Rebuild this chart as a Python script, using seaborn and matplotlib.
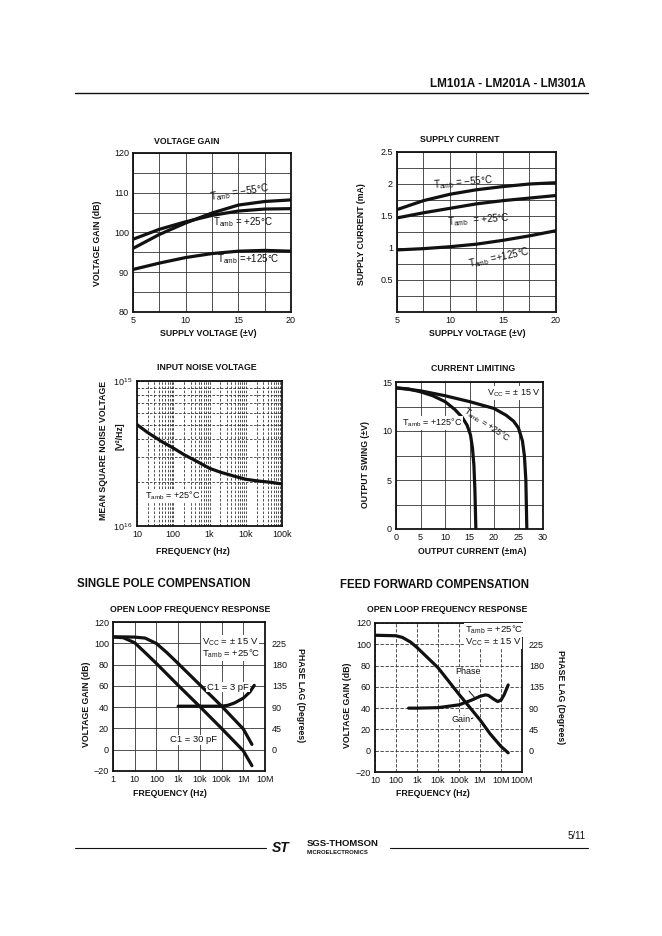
import matplotlib
matplotlib.use("Agg")
import matplotlib.pyplot as plt
import matplotlib.ticker as mticker
from matplotlib.lines import Line2D
import numpy as np
import pandas as pd
import seaborn as sns

# ---------------- data ----------------
# voltage gain vs supply voltage
vs = [5, 7.5, 10, 12.5, 15, 17.5, 20]
gain_m55 = [96.0, 99.5, 102.4, 104.9, 106.9, 107.8, 108.2]
gain_p25 = [98.3, 100.8, 102.7, 104.3, 105.4, 105.9, 106.0]
gain_p125 = [90.7, 92.3, 93.7, 94.7, 95.3, 95.5, 95.3]

# supply current vs supply voltage
icc_m55 = [1.60, 1.74, 1.84, 1.91, 1.96, 2.00, 2.02]
icc_p25 = [1.47, 1.55, 1.62, 1.69, 1.74, 1.78, 1.82]
icc_p125 = [0.97, 0.99, 1.02, 1.06, 1.12, 1.19, 1.27]

# input noise voltage
f_noise = [10, 20, 50, 100, 200, 500, 1e3, 2e3, 5e3, 1e4, 2e4, 5e4, 1e5]
noise = [5.0e-16, 4.4e-16, 3.8e-16, 3.45e-16, 3.1e-16, 2.75e-16, 2.5e-16,
         2.35e-16, 2.2e-16, 2.1e-16, 2.05e-16, 2.0e-16, 1.95e-16]

# current limiting
iout_125 = [0, 2.5, 5, 7.5, 10, 12, 13.5, 14.5, 15.2, 15.6, 15.9, 16.1, 16.3]
vout_125 = [14.4, 14.3, 14.0, 13.6, 13.0, 12.2, 11.4, 10.6, 9.6, 8.3, 6.5, 4.0, 0]
iout_25 = [0, 5, 10, 15, 20, 22.5, 24, 25, 25.8, 26.2, 26.5, 26.7]
vout_25 = [14.4, 14.1, 13.6, 13.0, 12.3, 11.6, 11.0, 10.3, 9.0, 7.5, 5.0, 0]

# single pole compensation
f_3pf = [1, 3, 10, 30, 100, 300, 1e3, 1e4, 1e5, 1e6, 2.5e6]
gain_3pf = [106, 106, 105.8, 104.9, 99.8, 91.3, 81, 61, 41, 19.5, 5]
f_30pf = [1, 3, 10, 30, 100, 1e3, 1e4, 1e5, 1e6, 2.5e6]
gain_30pf = [106, 105.2, 100.5, 91.3, 81, 60.5, 40.5, 20, -1, -15]
f_ph5 = [1e3, 1e4, 1e5, 2e5, 4e5, 1e6, 2e6, 3.2e6]
phase5 = [92, 92, 92, 94, 99, 109, 122, 136]

# feed forward compensation
f_g6 = [10, 100, 200, 500, 1e3, 1e4, 1e5, 1e6, 3e6, 1e7, 2.2e7]
gain6 = [108.5, 108, 106.5, 102, 97, 78, 53, 29, 16, 4, -2]
f_ph6 = [400, 1e3, 1e4, 1e5, 4e5, 1e6, 1.8e6, 2.5e6, 4.5e6, 7e6, 1e7, 1.4e7, 2.2e7]
phase6 = [90, 90, 91, 97, 107, 115, 118, 117, 109, 104, 107, 118, 139]

freq_labels5 = ["1", "10", "100", "1k", "10k", "100k", "1M", "10M"]
freq_labels6 = ["10", "100", "1k", "10k", "100k", "1M", "10M", "100M"]

# ---------------- style ----------------
sns.set_style("white")
plt.rcParams["font.family"] = ["Liberation Sans", "DejaVu Sans"]
plt.rcParams["mathtext.fontset"] = "custom"
plt.rcParams["mathtext.rm"] = "Liberation Sans"
plt.rcParams["mathtext.it"] = "Liberation Sans"

W, H = 662, 936
fig = plt.figure(figsize=(W / 100, H / 100), dpi=100)

INK = "#111111"
LW = 2.3
TICK = 6.5
LAB = 6.3


def box(x0, y0, x1, y1):
    return [x0 / W, 1 - y1 / H, (x1 - x0) / W, (y1 - y0) / H]


def txt(x, y, s, **kw):
    kw.setdefault("va", "center")
    kw.setdefault("color", INK)
    fig.text(x / W, 1 - y / H, s, **kw)


def hline(x0, x1, y, lw=1.0):
    fig.add_artist(Line2D([x0 / W, x1 / W], [1 - y / H, 1 - y / H],
                          color=INK, lw=lw))


def frame(ax, grid_ls="-"):
    for s in ax.spines.values():
        s.set_color(INK)
        s.set_linewidth(1.3)
    ax.tick_params(which="both", length=0, labelsize=TICK, pad=3, colors=INK)
    ax.grid(which="both", color="#333333", lw=0.6, ls=grid_ls)
    ax.set_xlabel("")
    ax.set_ylabel("")


def curve(ax, x, y):
    df = pd.DataFrame({"x": x, "y": y})
    sns.lineplot(data=df, x="x", y="y", ax=ax, color=INK, lw=LW,
                 sort=False, estimator=None, legend=False)


T = r"T$_{\rm amb}$"
wb = dict(facecolor="white", edgecolor="none", pad=0.6)

# ---------------- 1. voltage gain ----------------
ax1 = fig.add_axes(box(133, 153, 291, 312))
curve(ax1, vs, gain_m55)
curve(ax1, vs, gain_p25)
curve(ax1, vs, gain_p125)
ax1.set_xlim(5, 20)
ax1.set_ylim(80, 120)
ax1.set_xticks([5, 10, 15, 20])
ax1.set_xticks([7.5, 12.5, 17.5], minor=True)
ax1.set_yticks([80, 90, 100, 110, 120])
ax1.set_yticks([85, 95, 105, 115], minor=True)
frame(ax1)
txt(187, 142, "VOLTAGE GAIN", ha="center", fontsize=LAB, fontweight="bold")
txt(208, 333, "SUPPLY VOLTAGE (±V)", ha="center", fontsize=LAB, fontweight="bold")
txt(98, 243, "VOLTAGE GAIN (dB)", ha="center", rotation=90, fontsize=LAB, fontweight="bold")
txt(209, 193, T + " = −55°C", fontsize=7, rotation=9)
txt(213, 222, T + " = +25°C", fontsize=7)
txt(217, 259, T + " =+125°C", fontsize=7)

# ---------------- 2. supply current ----------------
ax2 = fig.add_axes(box(397, 152, 556, 312))
curve(ax2, vs, icc_m55)
curve(ax2, vs, icc_p25)
curve(ax2, vs, icc_p125)
ax2.set_xlim(5, 20)
ax2.set_ylim(0, 2.5)
ax2.set_xticks([5, 10, 15, 20])
ax2.set_xticks([7.5, 12.5, 17.5], minor=True)
ax2.set_yticks([0.5, 1, 1.5, 2, 2.5])
ax2.set_yticklabels(["0.5", "1", "1.5", "2", "2.5"])
ax2.set_yticks([0.25, 0.75, 1.25, 1.75, 2.25], minor=True)
frame(ax2)
txt(460, 139, "SUPPLY CURRENT", ha="center", fontsize=LAB, fontweight="bold")
txt(477, 333, "SUPPLY VOLTAGE (±V)", ha="center", fontsize=LAB, fontweight="bold")
txt(362, 234, "SUPPLY CURRENT (mA)", ha="center", rotation=90, fontsize=LAB, fontweight="bold")
txt(433, 183, T + " = −55°C", fontsize=7, rotation=5)
txt(447, 220, T + "  = +25°C", fontsize=7, rotation=4)
txt(467, 258, T + " =+125°C", fontsize=7, rotation=12)

# ---------------- 3. input noise voltage ----------------
ax3 = fig.add_axes(box(137, 381, 282, 526))
ax3.set_xscale("log")
ax3.set_yscale("log")
curve(ax3, f_noise, noise)
ax3.set_xlim(10, 1e5)
ax3.set_ylim(1e-16, 1e-15)
ax3.set_xticks([10, 100, 1e3, 1e4, 1e5])
ax3.set_xticklabels(["10", "100", "1k", "10k", "100k"])
ax3.xaxis.set_minor_locator(mticker.LogLocator(base=10, subs=np.arange(2, 10)))
ax3.xaxis.set_minor_formatter(mticker.NullFormatter())
ax3.set_yticks([1e-16, 1e-15])
ax3.set_yticklabels([r"10$^{\,16}$", r"10$^{\,15}$"])
ax3.yaxis.set_minor_locator(mticker.LogLocator(base=10, subs=np.arange(2, 10)))
ax3.yaxis.set_minor_formatter(mticker.NullFormatter())
frame(ax3, grid_ls=(0, (3, 2)))
txt(207, 368, "INPUT NOISE VOLTAGE", ha="center", fontsize=LAB, fontweight="bold")
txt(193, 552, "FREQUENCY (Hz)", ha="center", fontsize=LAB, fontweight="bold")
txt(104, 450, "MEAN SQUARE NOISE VOLTAGE", ha="center", rotation=90, fontsize=LAB, fontweight="bold")
txt(120, 436, "[V²/Hz]", ha="center", rotation=90, fontsize=LAB, fontweight="bold")
txt(145, 496, T + " = +25°C", fontsize=6.5, bbox=wb)

# ---------------- 4. current limiting ----------------
ax4 = fig.add_axes(box(396, 382, 543, 529))
curve(ax4, iout_125, vout_125)
curve(ax4, iout_25, vout_25)
ax4.set_xlim(0, 30)
ax4.set_ylim(0, 15)
ax4.set_xticks([0, 5, 10, 15, 20, 25, 30])
ax4.set_yticks([0, 5, 10, 15])
ax4.set_yticks([2.5, 7.5, 12.5], minor=True)
frame(ax4)
txt(473, 369, "CURRENT LIMITING", ha="center", fontsize=LAB, fontweight="bold")
txt(472, 551, "OUTPUT CURRENT (±mA)", ha="center", fontsize=LAB, fontweight="bold")
txt(365, 464, "OUTPUT SWING (±V)", ha="center", rotation=90, fontsize=LAB, fontweight="bold")
txt(487, 393, r"V$_{\rm CC}$ = ± 15 V", fontsize=6.5, bbox=wb)
txt(487, 425, T + " = +25°C", ha="center", fontsize=6.3, rotation=-34)
txt(402, 423, T + " = +125°C", fontsize=6.5, bbox=wb)


# ---------------- 5/6. open loop frequency response ----------------
def bode(ax, labels, lo):
    ax.set_xscale("log")
    ax.set_xlim(lo, lo * 1e7)
    ax.set_ylim(-20, 120)
    ax.set_xticks([lo * 10 ** k for k in range(8)])
    ax.set_xticklabels(labels)
    ax.xaxis.set_minor_locator(mticker.NullLocator())
    ax.set_yticks(range(-20, 121, 20))
    ax.set_yticklabels(["−20", "0", "20", "40", "60", "80", "100", "120"])
    tw = ax.twinx()
    tw.set_ylim(-45, 270)
    tw.set_yticks([0, 45, 90, 135, 180, 225])
    tw.tick_params(length=0, labelsize=TICK, pad=5, colors=INK)
    tw.grid(False)
    for s in tw.spines.values():
        s.set_visible(False)
    return tw


ax5 = fig.add_axes(box(113, 622, 265, 771))
curve(ax5, f_3pf, gain_3pf)
curve(ax5, f_30pf, gain_30pf)
tw5 = bode(ax5, freq_labels5, 1)
frame(ax5)
curve(tw5, f_ph5, phase5)
tw5.set_ylabel("")
tw5.set_xlabel("")
tw5.set_xlim(1, 1e7)

txt(77, 584, "SINGLE POLE COMPENSATION", fontsize=8.3, fontweight="bold")
txt(190, 609, "OPEN LOOP FREQUENCY RESPONSE", ha="center", fontsize=LAB, fontweight="bold")
txt(170, 793, "FREQUENCY (Hz)", ha="center", fontsize=LAB, fontweight="bold")
txt(87, 704, "VOLTAGE GAIN (dB)", ha="center", rotation=90, fontsize=LAB, fontweight="bold")
txt(300, 695, "PHASE LAG (Degrees)", ha="center", rotation=-90, fontsize=LAB, fontweight="bold")
txt(202, 642, r"V$_{\rm CC}$ = ± 15 V", fontsize=6.8, bbox=wb)
txt(202, 654, T + " = +25°C", fontsize=6.8, bbox=wb)
txt(207, 687, "C1 = 3 pF", fontsize=6.8, bbox=wb)
txt(170, 740, "C1 = 30 pF", fontsize=6.8, bbox=wb)

ax6 = fig.add_axes(box(375, 623, 522, 772))
curve(ax6, f_g6, gain6)
tw6 = bode(ax6, freq_labels6, 10)
frame(ax6, grid_ls=(0, (4, 2)))
curve(tw6, f_ph6, phase6)
tw6.set_ylabel("")
tw6.set_xlabel("")
tw6.set_xlim(10, 1e8)

txt(340, 585, "FEED FORWARD COMPENSATION", fontsize=8.3, fontweight="bold")
txt(447, 610, "OPEN LOOP FREQUENCY RESPONSE", ha="center", fontsize=LAB, fontweight="bold")
txt(433, 794, "FREQUENCY (Hz)", ha="center", fontsize=LAB, fontweight="bold")
txt(347, 705, "VOLTAGE GAIN (dB)", ha="center", rotation=90, fontsize=LAB, fontweight="bold")
txt(560, 697, "PHASE LAG (Degrees)", ha="center", rotation=-90, fontsize=LAB, fontweight="bold")
txt(465, 630, T + " = +25°C", fontsize=6.8, bbox=wb)
txt(465, 642, r"V$_{\rm CC}$ = ± 15 V", fontsize=6.8, bbox=wb)
txt(455, 672, "Phase", fontsize=6.5, bbox=wb)
txt(451, 720, "Gain", fontsize=6.5, bbox=wb)
fig.add_artist(plt.Line2D([469 / W, 475 / W], [1 - 691 / H, 1 - 698 / H], color=INK, lw=0.7))
fig.add_artist(plt.Line2D([466 / W, 473 / W], [1 - 721 / H, 1 - 718 / H], color=INK, lw=0.7))

# ---------------- page header / footer ----------------
txt(586, 84, "LM101A - LM201A - LM301A", ha="right", fontsize=8.5, fontweight="bold")
hline(75, 588, 93, lw=1.0)

hline(75, 266, 848, lw=0.8)
hline(390, 588, 848, lw=0.8)
txt(272, 848, "ST", fontsize=10, fontweight="bold", style="italic")
txt(307, 843, "SGS-THOMSON", fontsize=6.8, fontweight="bold")
txt(307, 852, "MICROELECTRONICS", fontsize=4.2, fontweight="bold")
txt(586, 836, "5/11", ha="right", fontsize=7)

fig.savefig("out.png", dpi=100)
